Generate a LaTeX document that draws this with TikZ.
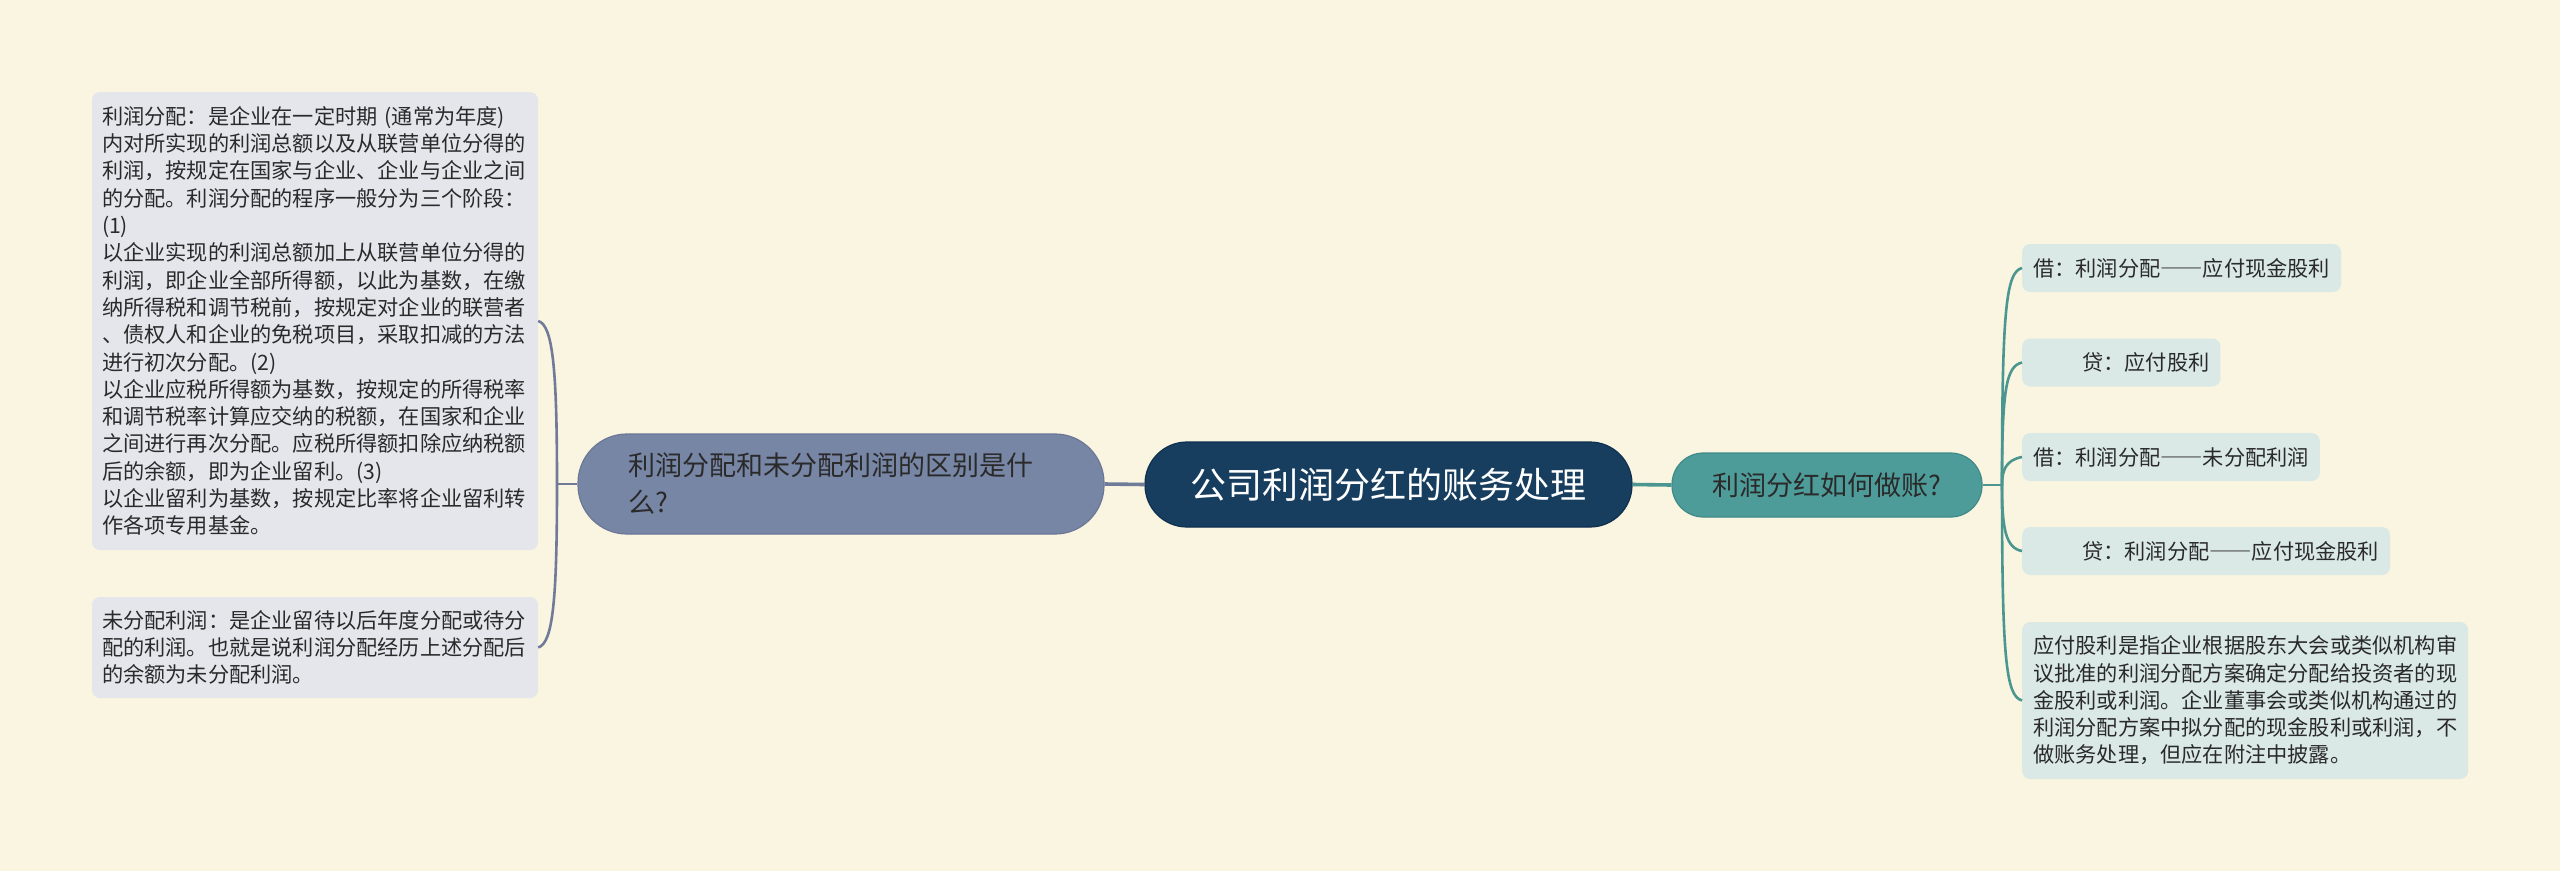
\documentclass[tikz,border=0pt]{standalone}
\usepackage{fontspec}
\setmainfont{Noto Sans CJK SC}
\newcommand\fwdash{{\addfontfeatures{CharacterWidth=Full}——}}
\definecolor{bg}{HTML}{FAF5E0}
\definecolor{lfill}{HTML}{7886A6}
\definecolor{lborder}{HTML}{6A7796}
\definecolor{lconn}{HTML}{6F7B98}
\definecolor{cfill}{HTML}{173E5E}
\definecolor{cborder}{HTML}{0F3050}
\definecolor{rfill}{HTML}{4E9C9A}
\definecolor{rborder}{HTML}{3F8A88}
\definecolor{rconn}{HTML}{4C9691}
\definecolor{lbfill}{HTML}{E4E6EC}
\definecolor{rbfill}{HTML}{DAE9E6}
\definecolor{txt}{HTML}{2A2A2A}
\begin{document}
\begin{tikzpicture}[x=1pt,y=-1pt,
  leftnode/.style={draw=lborder,line width=1.2pt,fill=lfill,rounded corners=49pt,minimum width=526pt,minimum height=100pt,inner sep=0pt,text width=426pt,align=left,text=txt,font=\fontsize{27}{37}\selectfont},
  centernode/.style={draw=cborder,line width=1.2pt,fill=cfill,rounded corners=42pt,minimum width=487pt,minimum height=85pt,inner sep=0pt,text=white,font=\fontsize{36}{40}\selectfont},
  rightnode/.style={draw=rborder,line width=1.2pt,fill=rfill,rounded corners=31.5pt,minimum width=310pt,minimum height=64pt,inner sep=0pt,text=txt,font=\fontsize{27}{32}\selectfont},
  lbox/.style={fill=lbfill,rounded corners=8pt,inner xsep=10pt,inner ysep=0pt,text width=426pt,align=left,text=txt,font=\fontsize{21.2}{27.3}\selectfont},
  rbox/.style={fill=rbfill,rounded corners=8pt,inner xsep=11pt,inner ysep=0pt,anchor=west,minimum height=48pt,text=txt,font=\fontsize{21.2}{27.3}\selectfont},
  lline/.style={draw=lconn,line width=2.6pt},
  rline/.style={draw=rconn,line width=2.6pt},
  mainl/.style={draw=lconn,line width=3.6pt},
  mainr/.style={draw=rconn,line width=3.6pt}]
\fill[bg] (0,0) rectangle (2560,871);
\useasboundingbox (0,0) rectangle (2560,871);

% nodes
\node[centernode] (c) at (1388.5,484.5) {公司利润分红的账务处理};
\node[leftnode] (ln) at (841,484) {利润分配和未分配利润的区别是什\\么?};
\node[rightnode] (rn) at (1827,485) {利润分红如何做账?};

\node[lbox,minimum height=458pt] (b1) at (315,321) {利润分配：是企业在一定时期 (通常为年度)\\内对所实现的利润总额以及从联营单位分得的\\利润，按规定在国家与企业、企业与企业之间\\的分配。利润分配的程序一般分为三个阶段：\\(1)\\以企业实现的利润总额加上从联营单位分得的\\利润，即企业全部所得额，以此为基数，在缴\\纳所得税和调节税前，按规定对企业的联营者\\、债权人和企业的免税项目，采取扣减的方法\\进行初次分配。(2)\\以企业应税所得额为基数，按规定的所得税率\\和调节税率计算应交纳的税额，在国家和企业\\之间进行再次分配。应税所得额扣除应纳税额\\后的余额，即为企业留利。(3)\\以企业留利为基数，按规定比率将企业留利转\\作各项专用基金。};
\node[lbox,minimum height=101pt] (b2) at (315,647.5) {未分配利润：是企业留待以后年度分配或待分\\配的利润。也就是说利润分配经历上述分配后\\的余额为未分配利润。};

\node[rbox] (r1) at (2022,268) {借：利润分配\fwdash 应付现金股利};
\node[rbox] (r2) at (2022,362.5) {\hspace*{49pt}贷：应付股利};
\node[rbox] (r3) at (2022,457) {借：利润分配\fwdash 未分配利润};
\node[rbox] (r4) at (2022,551) {\hspace*{49pt}贷：利润分配\fwdash 应付现金股利};
\node[rbox,minimum height=157pt,text width=424pt,align=left] (r5) at (2022,700.5) {应付股利是指企业根据股东大会或类似机构审\\议批准的利润分配方案确定分配给投资者的现\\金股利或利润。企业董事会或类似机构通过的\\利润分配方案中拟分配的现金股利或利润，不\\做账务处理，但应在附注中披露。};

% junctions
\coordinate (lj) at (557,484);
\coordinate (rj) at (2002,485);

% connectors
\draw[mainl] (ln.east) -- (c.west);
\draw[mainr] (c.east) -- (rn.west);

\draw[lline] (ln.west) -- (lj);
\draw[lline] (lj) .. controls (557,370) and (553,325) .. (b1.east);
\draw[lline] (lj) .. controls (557,600) and (553,643) .. (b2.east);

\draw[rline] (rn.east) -- (rj);
\draw[rline] (rj) .. controls (2002,310) and (2006,272) .. (r1.west);
\draw[rline] (rj) .. controls (2002,390) and (2006,366) .. (r2.west);
\draw[rline] (rj) .. controls (2002,470) and (2006,460) .. (r3.west);
\draw[rline] (rj) .. controls (2002,530) and (2006,548) .. (r4.west);
\draw[rline] (rj) .. controls (2002,660) and (2006,696) .. (r5.west);
\end{tikzpicture}
\end{document}
